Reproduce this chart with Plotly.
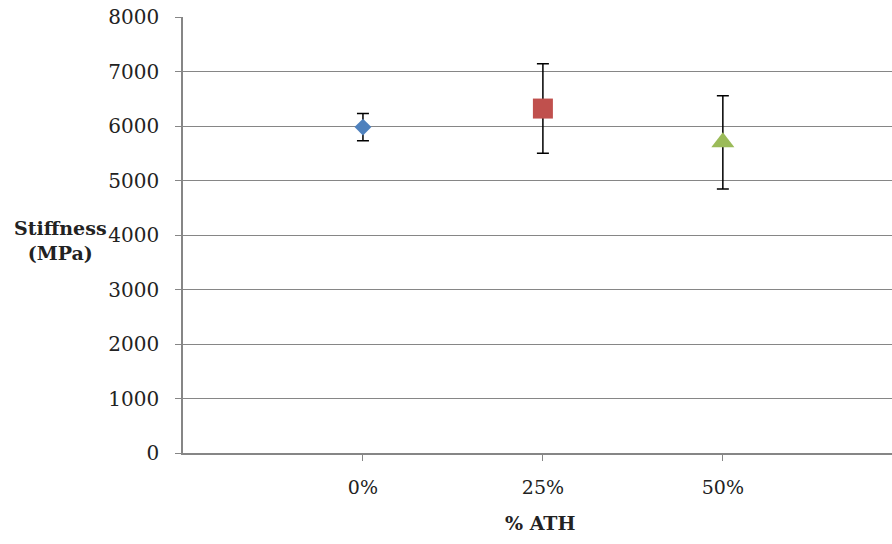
import plotly.graph_objects as go

# Stiffness of specimens at each ATH loading
categories = ["0%", "25%", "50%"]
positions = [1, 2, 3]
stiffness = [5980, 6320, 5700]
stiffness_err = [250, 820, 855]
marker_symbols = ["diamond", "square", "triangle-up"]
marker_colors = ["#4F81BD", "#C0504D", "#9BBB59"]
marker_sizes = [13, 20, 20]
y_ticks = [0, 1000, 2000, 3000, 4000, 5000, 6000, 7000, 8000]

font_family = "DejaVu Serif"
text_color = "#222222"
axis_color = "#868686"

fig = go.Figure()
fig.add_trace(go.Scatter(
    x=positions,
    y=stiffness,
    mode="markers",
    marker=dict(symbol=marker_symbols, color=marker_colors, size=marker_sizes,
                opacity=1, line=dict(width=0)),
    error_y=dict(type="data", array=stiffness_err, visible=True,
                 color="black", thickness=1.5, width=6),
    showlegend=False,
    hoverinfo="x+y",
))

fig.update_layout(
    width=892, height=544,
    margin=dict(l=183, r=0, t=17, b=91),
    paper_bgcolor="white",
    plot_bgcolor="white",
    font=dict(family=font_family, size=20, color=text_color),
    xaxis=dict(
        range=[0, 3.94],
        tickvals=positions,
        ticktext=categories,
        showgrid=False,
        zeroline=False,
        showline=True,
        linecolor=axis_color,
        linewidth=1.5,
        ticks="outside",
        ticklen=6,
        tickcolor=axis_color,
        ticklabelstandoff=10,
        tickfont=dict(family=font_family, size=19, color=text_color),
    ),
    yaxis=dict(
        range=[0, 8000],
        tickvals=y_ticks,
        showgrid=True,
        gridcolor=axis_color,
        gridwidth=1.2,
        zeroline=False,
        showline=True,
        linecolor=axis_color,
        linewidth=1.5,
        ticks="outside",
        ticklen=6,
        tickcolor=axis_color,
        ticklabelstandoff=12,
        tickfont=dict(family=font_family, size=20, color=text_color),
    ),
)

# Axis titles placed in pixel terms relative to the plotting area
plot_w = 892 - 183
plot_h = 544 - 17 - 91
fig.add_annotation(text="<b>Stiffness<br>(MPa)</b>", xref="paper", yref="paper",
                   x=(60 - 183) / plot_w, y=(453 - 240) / plot_h,
                   xanchor="center", yanchor="middle", showarrow=False, align="center",
                   font=dict(family=font_family, size=19, color=text_color))
fig.add_annotation(text="<b>% ATH</b>", xref="paper", yref="paper",
                   x=(540 - 183) / plot_w, y=(453 - 523) / plot_h,
                   xanchor="center", yanchor="middle", showarrow=False,
                   font=dict(family=font_family, size=19, color=text_color))

fig.write_html("out.html")
